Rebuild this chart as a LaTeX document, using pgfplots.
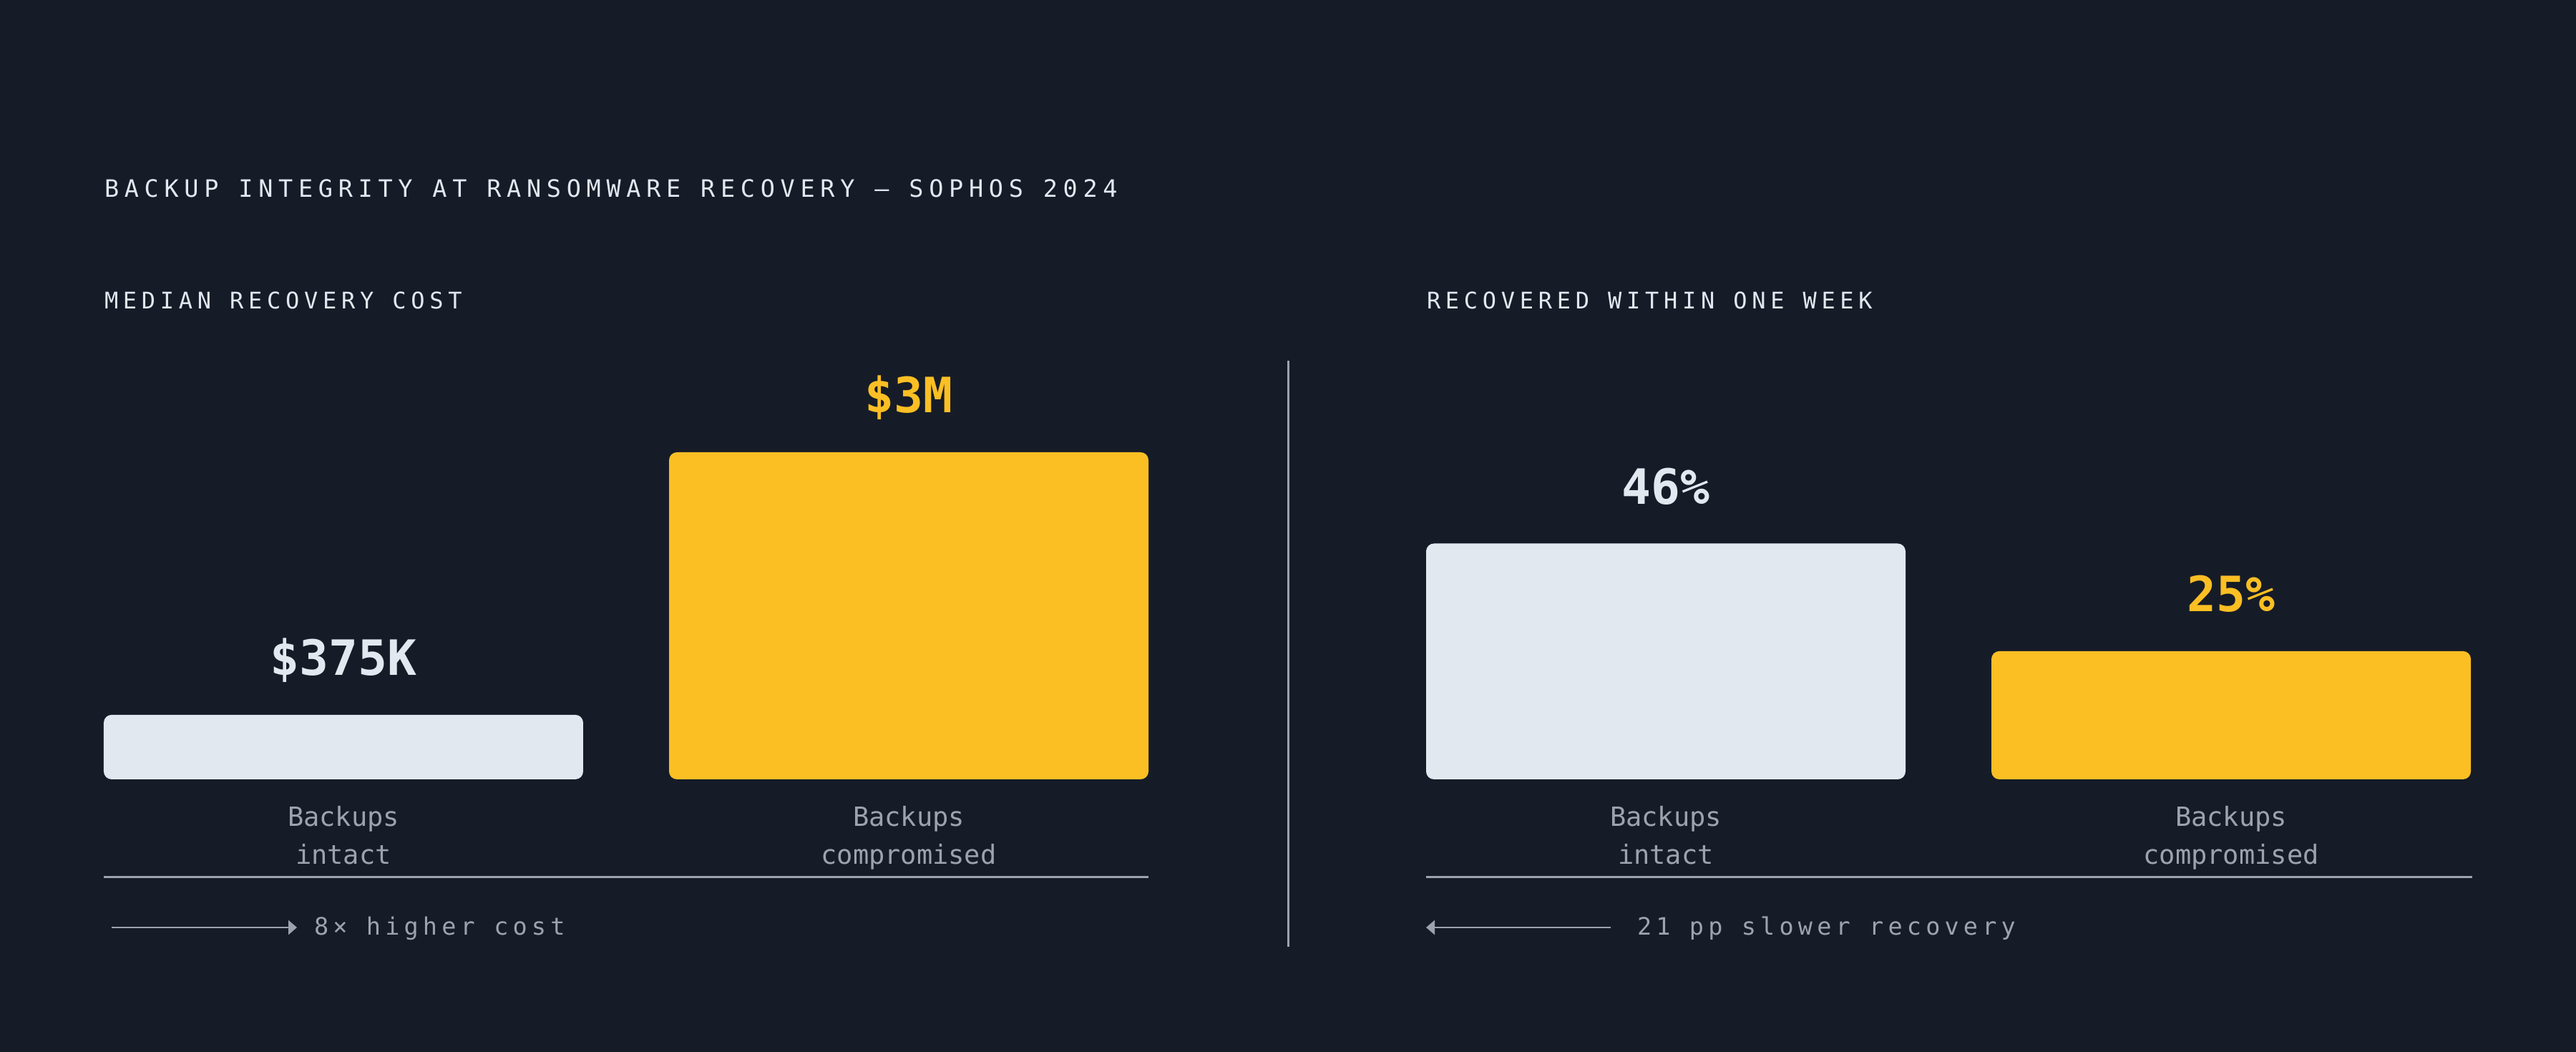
\documentclass[border=0pt]{standalone}
\usepackage{pgfplots}
\pgfplotsset{compat=1.18}
\usepackage{fontspec}
\setmainfont{DejaVu Sans Mono}
\newfontfamily\monotitle[LetterSpace=23]{DejaVu Sans Mono}
\newfontfamily\monotrack[LetterSpace=21]{DejaVu Sans Mono}
\newfontfamily\monoanno[LetterSpace=18.5]{DejaVu Sans Mono}
\usetikzlibrary{arrows.meta}
\definecolor{bg}{HTML}{161C27}
\definecolor{lightbar}{HTML}{E2E8F0}
\definecolor{amber}{HTML}{FBBF24}
\definecolor{graytext}{HTML}{9CA3AF}
\definecolor{titlec}{HTML}{E2E8F0}
\begin{document}
\begin{tikzpicture}[x=1pt,y=1pt]
\path[use as bounding box, fill=bg] (0,0) rectangle (720,294);
\node[anchor=base west, inner sep=0pt, text=titlec, font=\monotitle\fontsize{6.7}{8}\selectfont] at (29,238.8) {BACKUP INTEGRITY AT RANSOMWARE RECOVERY — SOPHOS 2024};
\node[anchor=base west, inner sep=0pt, text=titlec, font=\monotrack\fontsize{6.4}{8}\selectfont] at (29,207.6) {MEDIAN RECOVERY COST};
\node[anchor=base west, inner sep=0pt, text=titlec, font=\monotrack\fontsize{6.4}{8}\selectfont] at (398.6,207.6) {RECOVERED WITHIN ONE WEEK};

\pgfplotsset{
  panel/.style={
    anchor=south west, scale only axis, width=292pt, height=91.4pt,
    xmin=-0.424, xmax=1.424, ybar, bar width=134pt,
    axis line style={draw=none}, tick style={draw=none}, ytick=\empty,
    xtick={0,1}, xticklabels={{Backups\\intact},{Backups\\compromised}},
    xticklabel style={align=center, anchor=north, inner sep=0pt, yshift=-3pt,
      font=\fontsize{7.4}{10.6}\selectfont, text=graytext},
    clip=false,
  },
  valbar/.style={draw=none, rounded corners=2.2pt, bar shift=0pt,
    nodes near coords align={center},
    every node near coord/.append style={anchor=base, yshift=11pt, inner sep=0pt,
      font=\bfseries\fontsize{13.6}{15}\selectfont}},
}

\begin{axis}[panel, at={(29pt,76.2pt)}, ymode=log, log origin y=infty, ymin=225, ymax=3000]
\addplot[valbar, fill=lightbar, nodes near coords={\$375K},
  every node near coord/.append style={text=lightbar}] coordinates {(0,375)};
\addplot[valbar, fill=amber, nodes near coords={\$3M},
  every node near coord/.append style={text=amber}] coordinates {(1,3000)};
\end{axis}

\begin{axis}[panel, at={(398.6pt,76.2pt)}, ymin=0, ymax=63.8]
\addplot[valbar, fill=lightbar, nodes near coords={46\%},
  every node near coord/.append style={text=lightbar}] coordinates {(0,46)};
\addplot[valbar, fill=amber, nodes near coords={25\%},
  every node near coord/.append style={text=amber}] coordinates {(1,25)};
\end{axis}

\draw[graytext, line width=0.6pt] (29,48.8) -- (321,48.8);
\draw[graytext, line width=0.6pt] (398.6,48.8) -- (691,48.8);
\draw[graytext, line width=0.6pt] (360,29.4) -- (360,193.2);

\draw[graytext, line width=0.5pt, -{Triangle[length=2.4pt,width=4pt]}] (31.2,34.8) -- (83,34.8);
\draw[graytext, line width=0.5pt, {Triangle[length=2.4pt,width=4pt]}-] (398.6,34.8) -- (450.2,34.8);
\node[anchor=base west, inner sep=0pt, text=graytext, font=\monoanno\fontsize{6.7}{8}\selectfont] at (87.6,32.6) {8× higher cost};
\node[anchor=base west, inner sep=0pt, text=graytext, font=\monoanno\fontsize{6.7}{8}\selectfont] at (457.4,32.6) {21 pp slower recovery};
\end{tikzpicture}
\end{document}
